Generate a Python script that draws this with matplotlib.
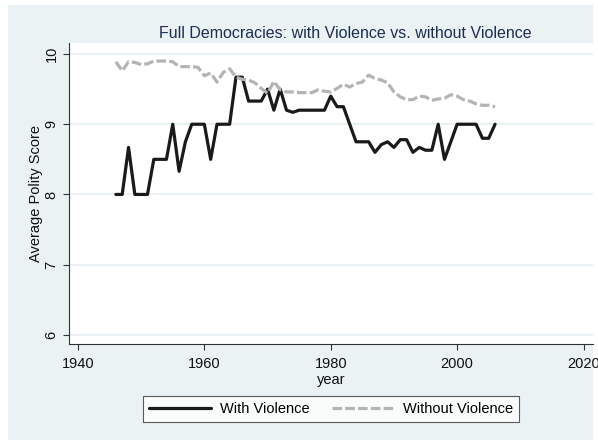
import matplotlib.pyplot as plt
from matplotlib.patches import Rectangle

# Average polity score per year
years = list(range(1946, 2007))

with_violence = [8.0, 8.0, 8.67, 8.0, 8.0, 8.0, 8.5, 8.5, 8.5, 9.0,
                 8.33, 8.75, 9.0, 9.0, 9.0, 8.5, 9.0, 9.0, 9.0, 9.67,
                 9.67, 9.33, 9.33, 9.33, 9.5, 9.2, 9.5, 9.2, 9.17, 9.2,
                 9.2, 9.2, 9.2, 9.2, 9.4, 9.25, 9.25, 9.0, 8.75, 8.75,
                 8.75, 8.6, 8.71, 8.75, 8.67, 8.78, 8.78, 8.6, 8.67, 8.63,
                 8.63, 9.0, 8.5, 8.75, 9.0, 9.0, 9.0, 9.0, 8.8, 8.8,
                 9.0]

without_violence = [9.89, 9.76, 9.89, 9.88, 9.85, 9.86, 9.9, 9.9, 9.9, 9.89,
                    9.82, 9.82, 9.82, 9.81, 9.69, 9.73, 9.6, 9.74, 9.79, 9.67,
                    9.64, 9.63, 9.59, 9.51, 9.44, 9.61, 9.49, 9.46, 9.46, 9.45,
                    9.45, 9.45, 9.49, 9.47, 9.46, 9.51, 9.57, 9.53, 9.58, 9.6,
                    9.7, 9.65, 9.63, 9.59, 9.46, 9.39, 9.35, 9.35, 9.4, 9.39,
                    9.34, 9.36, 9.37, 9.42, 9.4, 9.35, 9.33, 9.29, 9.27, 9.27,
                    9.25]

bg = "#EAF2F3"
navy = "#1E2D53"

plt.rcParams["font.family"] = ["Liberation Sans", "DejaVu Sans"]

fig = plt.figure(figsize=(5.98, 4.4), dpi=100, facecolor="white")
# outer graph region (image is cropped on the right)
fig.patches.append(Rectangle((8 / 598, 0), (593 - 8) / 598, 1 - 5 / 440,
                             transform=fig.transFigure, facecolor=bg,
                             edgecolor="none", zorder=-10))

ax = fig.add_axes([69 / 598, 1 - 344 / 440, (593 - 69) / 598, (344 - 43) / 440])
ax.set_facecolor("white")

ax.plot(years, with_violence, color="#1A1A1A", linewidth=2.3,
        solid_joinstyle="round", solid_capstyle="round", label="With Violence")
ax.plot(years, without_violence, color="#B4B4B4", linewidth=2.3,
        dashes=(3.0, 1.0), label="Without Violence")

ax.set_xlim(1938.58, 2021.5)
ax.set_ylim(5.87, 10.157)
ax.set_xticks([1940, 1960, 1980, 2000, 2020])
ax.set_yticks([6, 7, 8, 9, 10])
ax.grid(axis="y", color="#E6EFF2", linewidth=1.2)
ax.set_axisbelow(True)

for side in ["top", "right"]:
    ax.spines[side].set_visible(False)
for side in ["left", "bottom"]:
    ax.spines[side].set_color("#333333")
    ax.spines[side].set_linewidth(0.8)

ax.tick_params(axis="both", direction="out", length=4, width=0.8,
               color="#333333", labelsize=10.5, labelcolor="#111111")
ax.tick_params(axis="x", pad=5)
plt.setp(ax.get_yticklabels(), rotation=90, va="center")

ax.set_xlabel("year", fontsize=10.5, color="#111111", labelpad=2)
ax.set_ylabel("Average Polity Score", fontsize=10.5, color="#111111", labelpad=1)

fig.text(345 / 598, 1 - 33 / 440, "Full Democracies: with Violence vs. without Violence",
         ha="center", va="center", fontsize=11.5, color=navy)

leg = fig.legend(loc="center", bbox_to_anchor=(331 / 598, 1 - 409 / 440), ncol=2,
                 frameon=True, fancybox=False, fontsize=10.5, handlelength=4.3,
                 columnspacing=1.5, handletextpad=0.6, borderpad=0.4)
leg.get_frame().set_edgecolor("#333333")
leg.get_frame().set_linewidth(0.8)
leg.get_frame().set_facecolor("white")

fig.savefig("out.png", dpi=100, facecolor=fig.get_facecolor())
